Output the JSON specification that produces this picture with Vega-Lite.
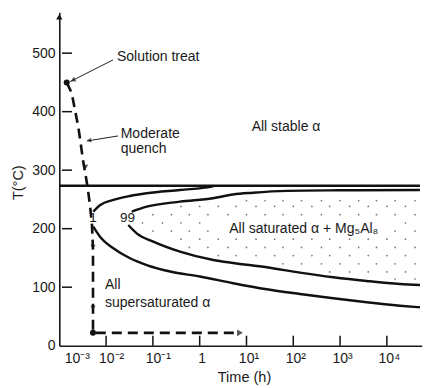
{
  "$schema": "https://vega.github.io/schema/vega-lite/v6.json",
  "width": 362.4,
  "height": 333.5,
  "autosize": {"type": "none"},
  "padding": {"left": 59.3, "top": 12.2, "right": 16.3, "bottom": 42.3},
  "background": "white",
  "config": {
    "view": {"stroke": null},
    "font": "Liberation Sans",
    "axis": {
      "grid": false,
      "domainColor": "#1a1a1a",
      "domainWidth": 1.6,
      "tickColor": "#1a1a1a",
      "tickWidth": 1.2,
      "tickSize": 0,
      "labelFont": "Liberation Sans",
      "labelFontSize": 14,
      "labelColor": "#1a1a1a",
      "titleFont": "Liberation Sans",
      "titleFontSize": 14.5,
      "titleFontWeight": "normal",
      "titleColor": "#1a1a1a"
    }
  },
  "datasets": {
    "curves": [
      {"k": "h", "t": 0.001, "T": 273.5},
      {"k": "h", "t": 50900, "T": 273.5},
      {"k": "c1u", "t": 0.00532, "T": 229.1},
      {"k": "c1u", "t": 0.00752, "T": 240.5},
      {"k": "c1u", "t": 0.01426, "T": 249.1},
      {"k": "c1u", "t": 0.03243, "T": 255.9},
      {"k": "c1u", "t": 0.07379, "T": 260.5},
      {"k": "c1u", "t": 0.3793, "T": 266.2},
      {"k": "c1u", "t": 1.803, "T": 271.8},
      {"k": "c1u", "t": 2.0, "T": 273.0},
      {"k": "c1l", "t": 0.00532, "T": 203.4},
      {"k": "c1l", "t": 0.00741, "T": 186.3},
      {"k": "c1l", "t": 0.01426, "T": 166.5},
      {"k": "c1l", "t": 0.03243, "T": 149.4},
      {"k": "c1l", "t": 0.07379, "T": 137.9},
      {"k": "c1l", "t": 0.2339, "T": 126.8},
      {"k": "c1l", "t": 1.014, "T": 118.3},
      {"k": "c1l", "t": 5.224, "T": 106.7},
      {"k": "c1l", "t": 27.04, "T": 96.4},
      {"k": "c1l", "t": 139, "T": 88.4},
      {"k": "c1l", "t": 716, "T": 81.0},
      {"k": "c1l", "t": 3698, "T": 74.2},
      {"k": "c1l", "t": 19055, "T": 68.4},
      {"k": "c1l", "t": 50933, "T": 65.6},
      {"k": "c99u", "t": 0.03524, "T": 229.0},
      {"k": "c99u", "t": 0.0738, "T": 237.6},
      {"k": "c99u", "t": 0.3793, "T": 246.2},
      {"k": "c99u", "t": 1.923, "T": 252.0},
      {"k": "c99u", "t": 5.15, "T": 258.5},
      {"k": "c99u", "t": 13.77, "T": 261.5},
      {"k": "c99u", "t": 73.5, "T": 264.6},
      {"k": "c99u", "t": 995, "T": 265.6},
      {"k": "c99u", "t": 50933, "T": 266.2},
      {"k": "c99l", "t": 0.02979, "T": 206.3},
      {"k": "c99l", "t": 0.04508, "T": 192.1},
      {"k": "c99l", "t": 0.1021, "T": 177.8},
      {"k": "c99l", "t": 0.3793, "T": 160.7},
      {"k": "c99l", "t": 1.954, "T": 146.5},
      {"k": "c99l", "t": 5.224, "T": 141.4},
      {"k": "c99l", "t": 27.04, "T": 134.0},
      {"k": "c99l", "t": 139, "T": 124.8},
      {"k": "c99l", "t": 716, "T": 116.9},
      {"k": "c99l", "t": 3698, "T": 110.6},
      {"k": "c99l", "t": 19055, "T": 105.5},
      {"k": "c99l", "t": 50933, "T": 103.8}
    ],
    "quench": [
      {"o": 1, "t": 0.001438, "T": 450},
      {"o": 2, "t": 0.001841, "T": 432},
      {"o": 3, "t": 0.002163, "T": 403},
      {"o": 4, "t": 0.002547, "T": 374},
      {"o": 5, "t": 0.002864, "T": 346},
      {"o": 6, "t": 0.003206, "T": 317},
      {"o": 7, "t": 0.003715, "T": 288},
      {"o": 8, "t": 0.004102, "T": 266},
      {"o": 9, "t": 0.004529, "T": 240},
      {"o": 10, "t": 0.005, "T": 206},
      {"o": 11, "t": 0.005248, "T": 164},
      {"o": 12, "t": 0.005248, "T": 22},
      {"o": 13, "t": 7.0, "T": 22}
    ],
    "leaders": [
      {"k": "a", "t": 0.01403, "T": 488.4},
      {"k": "a", "t": 0.001694, "T": 451.3},
      {"k": "b", "t": 0.01795, "T": 358.5},
      {"k": "b", "t": 0.00391, "T": 349.9}
    ],
    "xtickc": [
      {"t": 0.01, "T": 8.55}, {"t": 0.1, "T": 8.55}, {"t": 1, "T": 8.55}, {"t": 10, "T": 8.55}, {"t": 100, "T": 8.55}, {"t": 1000, "T": 8.55}, {"t": 10000, "T": 8.55}
    ],
    "ytickc": [
      {"t": 0.00146, "T": 100}, {"t": 0.00146, "T": 200}, {"t": 0.00146, "T": 300}, {"t": 0.00146, "T": 400}, {"t": 0.00146, "T": 500}
    ],
    "dots": [
      {"t": 10, "T": 248}, {"t": 25, "T": 248}, {"t": 60, "T": 248}, {"t": 150, "T": 248}, {"t": 400, "T": 248}, {"t": 1000, "T": 248}, {"t": 2500, "T": 248}, {"t": 6000, "T": 248}, {"t": 15000, "T": 248}, {"t": 40000, "T": 248},
      {"t": 0.4, "T": 238}, {"t": 1, "T": 238}, {"t": 2.5, "T": 238}, {"t": 6, "T": 238}, {"t": 16, "T": 238}, {"t": 40, "T": 238}, {"t": 100, "T": 238}, {"t": 250, "T": 238}, {"t": 600, "T": 238}, {"t": 1600, "T": 238}, {"t": 4000, "T": 238}, {"t": 10000, "T": 238}, {"t": 25000, "T": 238},
      {"t": 0.1, "T": 224}, {"t": 0.25, "T": 224}, {"t": 0.6, "T": 224}, {"t": 1.5, "T": 224}, {"t": 4, "T": 224}, {"t": 10, "T": 224}, {"t": 25, "T": 224}, {"t": 60, "T": 224}, {"t": 150, "T": 224}, {"t": 400, "T": 224}, {"t": 1000, "T": 224}, {"t": 2500, "T": 224}, {"t": 6000, "T": 224}, {"t": 15000, "T": 224}, {"t": 40000, "T": 224},
      {"t": 0.06, "T": 210}, {"t": 0.16, "T": 210}, {"t": 0.4, "T": 210}, {"t": 1, "T": 210}, {"t": 25000, "T": 210},
      {"t": 0.1, "T": 196}, {"t": 0.25, "T": 196}, {"t": 0.6, "T": 196}, {"t": 1.5, "T": 196}, {"t": 15000, "T": 196}, {"t": 40000, "T": 196},
      {"t": 0.4, "T": 182}, {"t": 1, "T": 182}, {"t": 2.5, "T": 182}, {"t": 6, "T": 182}, {"t": 16, "T": 182}, {"t": 40, "T": 182}, {"t": 100, "T": 182}, {"t": 250, "T": 182}, {"t": 600, "T": 182}, {"t": 1600, "T": 182}, {"t": 4000, "T": 182}, {"t": 10000, "T": 182}, {"t": 25000, "T": 182},
      {"t": 0.6, "T": 168}, {"t": 1.5, "T": 168}, {"t": 4, "T": 168}, {"t": 10, "T": 168}, {"t": 25, "T": 168}, {"t": 60, "T": 168}, {"t": 150, "T": 168}, {"t": 400, "T": 168}, {"t": 1000, "T": 168}, {"t": 2500, "T": 168}, {"t": 6000, "T": 168}, {"t": 15000, "T": 168}, {"t": 40000, "T": 168},
      {"t": 2.5, "T": 154}, {"t": 6, "T": 154}, {"t": 16, "T": 154}, {"t": 40, "T": 154}, {"t": 100, "T": 154}, {"t": 250, "T": 154}, {"t": 600, "T": 154}, {"t": 1600, "T": 154}, {"t": 4000, "T": 154}, {"t": 10000, "T": 154}, {"t": 25000, "T": 154},
      {"t": 60, "T": 140}, {"t": 150, "T": 140}, {"t": 400, "T": 140}, {"t": 1000, "T": 140}, {"t": 2500, "T": 140}, {"t": 6000, "T": 140}, {"t": 15000, "T": 140}, {"t": 40000, "T": 140},
      {"t": 600, "T": 126}, {"t": 1600, "T": 126}, {"t": 4000, "T": 126}, {"t": 10000, "T": 126}, {"t": 25000, "T": 126},
      {"t": 15000, "T": 114}, {"t": 40000, "T": 114}
    ],
    "notes": [
      {"label": "Solution treat", "t": 0.0171, "T": 493.5},
      {"label": "Moderate", "t": 0.0205, "T": 362},
      {"label": "quench", "t": 0.0205, "T": 337},
      {"label": "All stable α", "t": 12.9, "T": 374.4},
      {"label": "All saturated α + Mg₅Al₈", "t": 4.29, "T": 199},
      {"label": "All", "t": 0.00948, "T": 104.5},
      {"label": "supersaturated α", "t": 0.00948, "T": 73.5}
    ],
    "curvelabels": [
      {"label": "1", "t": 0.00525, "T": 218.3},
      {"label": "99", "t": 0.0286, "T": 218.3}
    ]
  },
  "encoding": {
    "x": {
      "field": "t",
      "type": "quantitative",
      "scale": {"type": "log", "domain": [0.001, 55500], "nice": false},
      "axis": {
        "values": [0.001, 0.01, 0.1, 1, 10, 100, 1000, 10000],
        "labelExpr": "datum.value < 0.005 ? '10⁻³' : datum.value < 0.05 ? '10⁻²' : datum.value < 0.5 ? '10⁻¹' : datum.value < 5 ? '1' : datum.value < 50 ? '10¹' : datum.value < 500 ? '10²' : datum.value < 5000 ? '10³' : '10⁴'",
        "labelPadding": 6,
        "labelOffset": {"condition": {"test": "datum.value < 0.5", "value": 5}, "value": 2},
        "title": "Time (h)",
        "titleX": 184.7,
        "titleY": 31.3,
        "titleAlign": "center",
        "titleBaseline": "middle"
      }
    },
    "y": {
      "field": "T",
      "type": "quantitative",
      "scale": {"domain": [0, 570], "nice": false},
      "axis": {
        "values": [0, 100, 200, 300, 400, 500],
        "labelPadding": 4.3,
        "title": "T(°C)",
        "titleX": -41.3,
        "titleY": 170,
        "titleAlign": "center",
        "titleBaseline": "middle"
      }
    }
  },
  "layer": [
    {
      "data": {"name": "dots"},
      "mark": {"type": "point", "filled": true, "size": 3, "color": "#555", "opacity": 0.8}
    },
    {
      "data": {"name": "xtickc"},
      "mark": {"type": "point", "shape": "stroke", "filled": false, "size": 100, "angle": 90, "stroke": "#111", "strokeWidth": 1.5, "opacity": 1}
    },
    {
      "data": {"name": "ytickc"},
      "mark": {"type": "point", "shape": "stroke", "filled": false, "size": 100, "angle": 0, "stroke": "#111", "strokeWidth": 1.5, "opacity": 1}
    },
    {
      "data": {"name": "curves"},
      "mark": {"type": "line", "color": "#111", "strokeWidth": 2.4, "interpolate": "monotone"},
      "encoding": {"detail": {"field": "k"}}
    },
    {
      "data": {"name": "quench"},
      "mark": {"type": "line", "color": "#111", "strokeWidth": 2.6, "strokeDash": [10, 6]},
      "encoding": {"order": {"field": "o"}}
    },
    {
      "data": {"name": "leaders"},
      "mark": {"type": "line", "color": "#222", "strokeWidth": 1},
      "encoding": {"detail": {"field": "k"}}
    },
    {
      "data": {"values": [{"t": 0.001963, "T": 453.8}]},
      "mark": {"type": "point", "shape": "triangle-right", "filled": true, "size": 30, "color": "#111", "angle": 153}
    },
    {
      "data": {"values": [{"t": 0.004315, "T": 350.8}]},
      "mark": {"type": "point", "shape": "triangle-right", "filled": true, "size": 25, "color": "#111", "angle": 171}
    },
    {
      "data": {"values": [{"t": 0.00365, "T": 305.5}, {"t": 0.005248, "T": 168.7}, {"t": 0.005248, "T": 64.5}]},
      "mark": {"type": "point", "shape": "triangle-down", "filled": true, "size": 28, "color": "#111"}
    },
    {
      "data": {"values": [{"t": 7.26, "T": 22}]},
      "mark": {"type": "point", "shape": "triangle-right", "filled": true, "size": 45, "color": "#111"}
    },
    {
      "data": {"values": [{"t": 0.001438, "T": 450}, {"t": 0.005248, "T": 22}]},
      "mark": {"type": "point", "shape": "circle", "filled": true, "size": 36, "color": "#111", "opacity": 1}
    },
    {
      "data": {"values": [{"t": 0.001, "T": 562}]},
      "mark": {"type": "point", "shape": "triangle-up", "filled": true, "size": 40, "color": "#111", "opacity": 1}
    },
    {
      "data": {"name": "notes"},
      "mark": {"type": "text", "align": "left", "baseline": "middle", "fontSize": 14, "font": "Liberation Sans", "color": "#1a1a1a"},
      "encoding": {"text": {"field": "label"}}
    },
    {
      "data": {"name": "curvelabels"},
      "mark": {"type": "text", "align": "center", "baseline": "middle", "fontSize": 13.5, "font": "Liberation Sans", "color": "#1a1a1a"},
      "encoding": {"text": {"field": "label"}}
    }
  ]
}
